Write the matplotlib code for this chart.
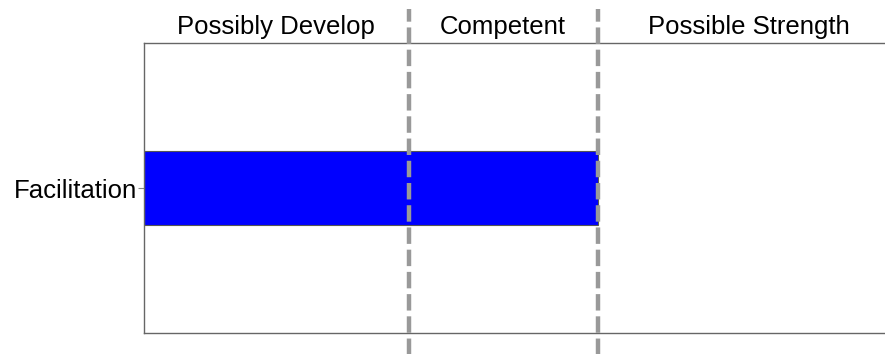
import matplotlib.pyplot as plt
import matplotlib.transforms as mtransforms

# chart data
categories = ['Facilitation']
scores = [60]
thresholds = [35, 60]
x_max = 100
band_labels = ['Possibly Develop', 'Competent', 'Possible Strength']

plt.rcParams['font.family'] = ['Liberation Sans', 'DejaVu Sans']

W, H = 885, 354
fig = plt.figure(figsize=(W / 100, H / 100), dpi=100)
# right edge of the axes runs past the figure, as in the reference
ax = fig.add_axes([144 / W, 21 / H, (900 - 144) / W, 290 / H])

ax.barh(range(len(categories)), scores, height=0.51, color='#0000ff',
        edgecolor='#555555', linewidth=0.8, zorder=2)
ax.set_xlim(0, x_max)
ax.set_ylim(-1, 1)
ax.set_yticks(range(len(categories)))
ax.set_yticklabels(categories, fontsize=18.5)
ax.tick_params(axis='y', length=4, width=0.8, color='#888888', pad=1)
ax.set_xticks([])

for s in ax.spines.values():
    s.set_color('#666666')
    s.set_linewidth(1)

# dashed band separators reaching outside the plot area
for t in thresholds:
    ax.axvline(t, ymin=-0.08, ymax=1.117, color='#999999', linewidth=3.2,
               linestyle=(0, (3.7, 1.3)), clip_on=False, zorder=3)

# band titles above the plot
edges = [0] + thresholds + [x_max]
trans = mtransforms.blended_transform_factory(ax.transData, ax.transAxes)
for i, lab in enumerate(band_labels):
    mid = (edges[i] + edges[i + 1]) / 2
    ax.text(mid, 1.031, lab, transform=trans, ha='center', va='baseline',
            fontsize=18.5)

fig.savefig('out.png', dpi=100)
